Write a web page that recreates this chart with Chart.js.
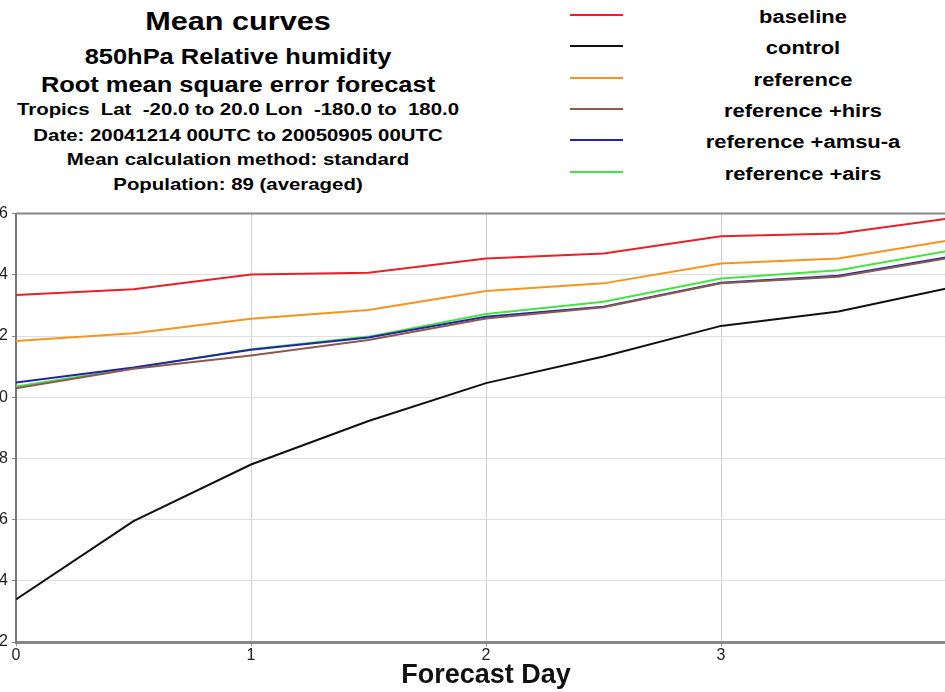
<!DOCTYPE html>
<html>
<head>
<meta charset="utf-8">
<script src="https://cdn.jsdelivr.net/npm/chart.js@4.4.1/dist/chart.umd.min.js"></script>
<style>
  html, body { margin: 0; padding: 0; background: #fff; }
  body { width: 945px; height: 692px; overflow: hidden; position: relative; font-family: "Liberation Sans", Arial, sans-serif; }
  .t { position: absolute; left: 0; width: 476px; text-align: center; font-weight: bold; line-height: 1; white-space: pre; color: #000;
       transform: scaleX(1.2); transform-origin: 238px 0; }
  .lg { position: absolute; left: 603px; width: 400px; text-align: center; font-weight: bold; font-size: 18.3px; line-height: 1; white-space: pre;
        transform: scaleX(1.2); transform-origin: 200px 0; }
  .ls { position: absolute; left: 570px; width: 53px; height: 2px; }
  #wrap { position: absolute; left: -34px; top: 200px; width: 990px; height: 492px; }
</style>
</head>
<body>
<div class="t" style="top:9.4px;font-size:25.5px">Mean curves</div>
<div class="t" style="top:46px;font-size:21.2px">850hPa Relative humidity</div>
<div class="t" style="top:73.8px;font-size:21.2px">Root mean square error forecast</div>
<div class="t" style="top:101.3px;font-size:17px">Tropics  Lat  -20.0 to 20.0 Lon  -180.0 to  180.0</div>
<div class="t" style="top:126.6px;font-size:17px">Date: 20041214 00UTC to 20050905 00UTC</div>
<div class="t" style="top:150.6px;font-size:17px">Mean calculation method: standard</div>
<div class="t" style="top:175.6px;font-size:17px">Population: 89 (averaged)</div>
<div id="legend"></div>
<div id="wrap"><canvas id="chart"></canvas></div>
<script>
// forecast day of each point
const days = [0, 0.5, 1, 1.5, 2, 2.5, 3, 3.5, 4];

// RMSE per series
const baseline   = [13.34, 13.53, 14.01, 14.07, 14.53, 14.70, 15.26, 15.35, 15.87];
const control    = [3.39, 5.95, 7.80, 9.22, 10.46, 11.33, 12.33, 12.80, 13.62];
const reference  = [11.84, 12.09, 12.56, 12.85, 13.47, 13.72, 14.37, 14.53, 15.16];
const refHirs    = [10.29, 10.93, 11.36, 11.87, 12.57, 12.94, 13.72, 13.94, 14.59];
const refAmsua   = [10.48, 10.97, 11.55, 11.95, 12.63, 12.96, 13.74, 13.97, 14.62];
const refAirs    = [10.35, 10.95, 11.57, 11.98, 12.72, 13.12, 13.88, 14.15, 14.83];

const seriesNames  = ["baseline", "control", "reference", "reference +hirs", "reference +amsu-a", "reference +airs"];
const seriesValues = [baseline, control, reference, refHirs, refAmsua, refAirs];
const seriesColors = ["#e8202a", "#111111", "#f7941d", "#8b5a50", "#2424a8", "#44e444"];

const yTicks = [2, 4, 6, 8, 10, 12, 14, 16];
const xTicks = [0, 1, 2, 3];

// legend on the right, as text
const legendRows = [23.3, 54.3, 86, 117.3, 148.3, 180];
const lg = document.getElementById("legend");
seriesNames.forEach(function (name, i) {
  const base = legendRows[i];
  const s = document.createElement("div");
  s.className = "ls";
  s.style.top = (base - 9) + "px";
  s.style.background = seriesColors[i];
  lg.appendChild(s);
  const t = document.createElement("div");
  t.className = "lg";
  t.style.top = (base - 0.8465 * 18.3) + "px";
  t.textContent = name;
  lg.appendChild(t);
});

// top frame line
const topBorder = {
  id: "topBorder",
  beforeDatasetsDraw(chart) {
    const a = chart.chartArea, c = chart.ctx;
    c.save();
    c.strokeStyle = "#888";
    c.lineWidth = 2;
    c.beginPath();
    c.moveTo(a.left, a.top);
    c.lineTo(a.right, a.top);
    c.stroke();
    c.restore();
  }
};

new Chart(document.getElementById("chart"), {
  type: "line",
  data: {
    datasets: seriesNames.map(function (name, i) {
      return {
        label: name,
        data: days.map(function (d, j) { return { x: d, y: seriesValues[i][j] }; }),
        borderColor: seriesColors[i],
        backgroundColor: seriesColors[i],
        borderWidth: 2,
        pointRadius: 0,
        tension: 0,
        fill: false
      };
    })
  },
  options: {
    responsive: true,
    maintainAspectRatio: false,
    animation: false,
    layout: { padding: { top: 12, right: 0, bottom: 0, left: 0 }, autoPadding: false },
    plugins: { legend: { display: false }, tooltip: { enabled: false } },
    scales: {
      x: {
        type: "linear",
        min: 0,
        max: 4,
        afterFit: function (s) { s.height = 50; },
        afterBuildTicks: function (s) { s.ticks = xTicks.map(function (v) { return { value: v }; }); },
        ticks: {
          color: "#222",
          padding: 0,
          font: { family: "'Liberation Sans', Arial, sans-serif", size: 16 }
        },
        grid: { color: "#d0d0d0", lineWidth: 1, tickLength: 4, tickColor: "#888" },
        border: { color: "#888", width: 3 },
        title: {
          display: true,
          text: "Forecast Day",
          color: "#111",
          padding: { top: 0, bottom: 0 },
          font: { family: "'Liberation Sans', Arial, sans-serif", size: 27, weight: "bold" }
        }
      },
      y: {
        min: 2,
        max: 16,
        afterFit: function (s) { s.width = 50; },
        afterBuildTicks: function (s) { s.ticks = yTicks.map(function (v) { return { value: v }; }); },
        ticks: {
          color: "#222",
          padding: 4,
          font: { family: "'Liberation Sans', Arial, sans-serif", size: 16 }
        },
        grid: { color: "#dedede", lineWidth: 1, tickLength: 4, tickColor: "#888" },
        border: { color: "#777", width: 2 }
      }
    }
  },
  plugins: [topBorder]
});
</script>
</body>
</html>
